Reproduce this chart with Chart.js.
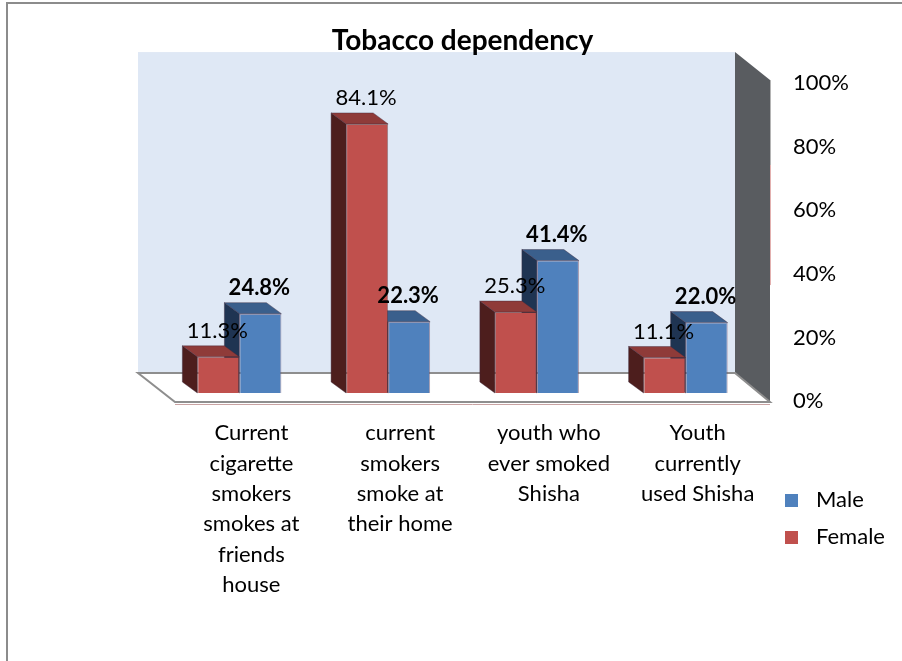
<!DOCTYPE html>
<html>
<head>
<meta charset="utf-8">
<script src="https://cdn.jsdelivr.net/npm/chart.js@4.4.1/dist/chart.umd.min.js"></script>
<style>
  html, body { margin: 0; padding: 0; background: #fff; }
  canvas { display: block; }
</style>
</head>
<body>
<canvas id="tobacco-chart" width="902" height="661"></canvas>
<script>
// Tobacco dependency by sex (percent)
const categories = [
  ['Current', 'cigarette', 'smokers', 'smokes at', 'friends', 'house'],
  ['current', 'smokers', 'smoke at', 'their home'],
  ['youth who', 'ever smoked', 'Shisha'],
  ['Youth', 'currently', 'used Shisha']
];
const femaleValues = [11.3, 84.1, 25.3, 11.1];
const maleValues = [24.8, 22.3, 41.4, 22.0];
const yTicks = [0, 20, 40, 60, 80, 100];

const FONT = 'Lato, "Open Sans", sans-serif';

// side / top shades for the fake 3d bars
const faces = {
  Female: { side: '#4d1e1d', top: '#8f3b39' },
  Male: { side: '#1f3452', top: '#3a5f8c' }
};
const DEPTH_X = -15, DEPTH_Y = -11;

const box3d = {
  id: 'box3d',
  beforeDraw(chart) {
    const { ctx, chartArea: a } = chart;
    const bx0 = a.left - 27, bx1 = a.right - 25;
    const by0 = a.top, by1 = a.bottom - 30;
    const fx0 = a.left + 10, fx1 = a.right + 10, fy = a.bottom - 1;
    ctx.save();
    // back wall
    ctx.fillStyle = '#dfe8f5';
    ctx.fillRect(bx0, by0, bx1 - bx0, by1 - by0);
    // right side wall
    ctx.fillStyle = '#595c60';
    ctx.beginPath();
    ctx.moveTo(bx1, by0);
    ctx.lineTo(fx1, by0 + 28);
    ctx.lineTo(fx1, fy);
    ctx.lineTo(bx1, by1);
    ctx.closePath();
    ctx.fill();
    ctx.lineWidth = 1;
    ctx.strokeStyle = '#b4b4b4';
    ctx.beginPath();
    ctx.moveTo(fx1 + 0.5, by0 + 28);
    ctx.lineTo(fx1 + 0.5, by0 + 113);
    ctx.stroke();
    ctx.strokeStyle = 'rgba(192,80,77,0.45)';
    ctx.beginPath();
    ctx.moveTo(fx1 + 0.5, by0 + 113);
    ctx.lineTo(fx1 + 0.5, by0 + 233);
    ctx.stroke();
    // floor
    ctx.fillStyle = '#ffffff';
    ctx.beginPath();
    ctx.moveTo(bx0, by1);
    ctx.lineTo(bx1, by1);
    ctx.lineTo(fx1, fy);
    ctx.lineTo(fx0, fy);
    ctx.closePath();
    ctx.fill();
    ctx.strokeStyle = '#8e8e8e';
    ctx.lineWidth = 2;
    ctx.stroke();
    ctx.strokeStyle = '#c9a3a3';
    ctx.lineWidth = 1;
    ctx.beginPath();
    ctx.moveTo(fx0, fy + 2.5);
    ctx.lineTo(fx1, fy + 2.5);
    ctx.stroke();
    ctx.restore();
  },
  beforeDatasetsDraw(chart) {
    const { ctx } = chart;
    ctx.save();
    // right-hand series first so the left bar's top covers its side
    for (let d = chart.data.datasets.length - 1; d >= 0; d--) {
      const ds = chart.data.datasets[d];
      const f = faces[ds.label];
      chart.getDatasetMeta(d).data.forEach(bar => {
        const { x, y, base, width } = bar.getProps(['x', 'y', 'base', 'width'], true);
        const l = x - width / 2, r = x + width / 2;
        ctx.lineWidth = 0.8;
        ctx.strokeStyle = 'rgba(60,40,60,0.5)';
        ctx.fillStyle = f.side;
        ctx.beginPath();
        ctx.moveTo(l, y);
        ctx.lineTo(l + DEPTH_X, y + DEPTH_Y);
        ctx.lineTo(l + DEPTH_X, base + DEPTH_Y);
        ctx.lineTo(l, base);
        ctx.closePath();
        ctx.fill();
        ctx.stroke();
        ctx.fillStyle = f.top;
        ctx.beginPath();
        ctx.moveTo(l, y);
        ctx.lineTo(l + DEPTH_X, y + DEPTH_Y);
        ctx.lineTo(r + DEPTH_X, y + DEPTH_Y);
        ctx.lineTo(r, y);
        ctx.closePath();
        ctx.fill();
        ctx.stroke();
      });
    }
    ctx.restore();
  },
  afterDatasetsDraw(chart) {
    const { ctx } = chart;
    ctx.save();
    ctx.fillStyle = '#000';
    ctx.textAlign = 'center';
    ctx.textBaseline = 'middle';
    chart.data.datasets.forEach((ds, d) => {
      ctx.font = (ds.label === 'Male' ? 'bold ' : '') + '22px ' + FONT;
      chart.getDatasetMeta(d).data.forEach((bar, i) => {
        ctx.fillText(ds.data[i].toFixed(1) + '%', bar.x - 1, bar.y - 26);
      });
    });
    ctx.restore();
  },
  afterDraw(chart) {
    const { ctx } = chart;
    ctx.save();
    // outer frame
    ctx.strokeStyle = '#8c8c8c';
    ctx.lineWidth = 2;
    ctx.beginPath();
    ctx.moveTo(7, 661);
    ctx.lineTo(7, 3);
    ctx.lineTo(902, 3);
    ctx.stroke();
    // legend, Male listed first
    ctx.font = '22px ' + FONT;
    ctx.textBaseline = 'middle';
    ctx.textAlign = 'left';
    const items = chart.data.datasets.slice().reverse();
    items.forEach((ds, k) => {
      const cy = 500 + k * 37;
      ctx.fillStyle = ds.backgroundColor;
      ctx.fillRect(785, cy - 6, 13, 13);
      ctx.fillStyle = '#000';
      ctx.fillText(ds.label, 816, cy);
    });
    ctx.restore();
  }
};

new Chart(document.getElementById('tobacco-chart'), {
  type: 'bar',
  data: {
    labels: categories,
    datasets: [
      { label: 'Female', data: femaleValues, backgroundColor: '#c0504d',
        borderColor: 'rgba(110,50,50,0.6)', borderWidth: 1 },
      { label: 'Male', data: maleValues, backgroundColor: '#4f81bd',
        borderColor: 'rgba(110,80,110,0.6)', borderWidth: 1 }
    ]
  },
  options: {
    responsive: false,
    devicePixelRatio: 1,
    animation: false,
    layout: { padding: { left: 165, top: 30.8, right: 0, bottom: 0 } },
    datasets: { bar: { categoryPercentage: 0.565, barPercentage: 1.0 } },
    plugins: {
      legend: { display: false },
      tooltip: { enabled: false },
      title: {
        display: true,
        text: 'Tobacco dependency',
        fullSize: false,
        color: '#000',
        padding: 0,
        font: { family: FONT, size: 28, weight: 'bold', lineHeight: 0.76 }
      }
    },
    scales: {
      x: {
        grid: { display: false, drawTicks: false },
        border: { display: false },
        ticks: {
          color: '#000',
          font: { family: FONT, size: 22, lineHeight: 1.38 },
          padding: 15,
          labelOffset: 12,
          maxRotation: 0,
          autoSkip: false
        },
        afterFit(axis) { axis.height = 258; }
      },
      y: {
        type: 'linear',
        display: false,
        min: -3.125,
        max: 106.56
      },
      y2: {
        type: 'linear',
        position: 'right',
        min: -0.629,
        max: 109.75,
        grid: { display: false, drawTicks: false },
        border: { display: false },
        ticks: {
          color: '#000',
          font: { family: FONT, size: 22 },
          padding: 33,
          callback: v => v + '%'
        },
        afterBuildTicks(axis) { axis.ticks = yTicks.map(v => ({ value: v })); },
        afterFit(axis) { axis.width = 142; }
      }
    }
  },
  plugins: [box3d]
});
</script>
</body>
</html>
